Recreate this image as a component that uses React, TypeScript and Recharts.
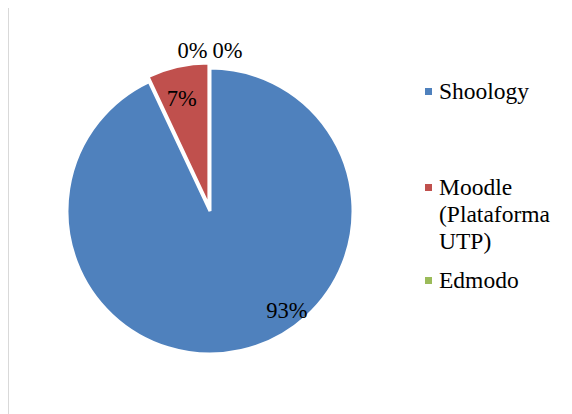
import { PieChart, Pie, Cell, Legend } from 'recharts'

// share of students per platform (%)
const categories = ['Shoology', 'Moodle (Plataforma UTP)', 'Edmodo', 'Otros']
const shares = [93, 7, 0, 0]
const colors = ['#4F81BD', '#C0504D', '#9BBB59', '#8064A2']
const legendCount = 3 // the 4th category has no legend entry in the original

const data = categories.map((name, i) => ({ name, value: shares[i] }))

const FONT = '"Liberation Serif", "Times New Roman", serif'
const RAD = Math.PI / 180
const CX = 201
const CY = 203
const R = 143
const EXPLODE_INDEX = 1
const EXPLODE = 5

// Excel-like label placement per slice (radius factor, angle shift, x nudge)
const labelPlacement = [
  { k: 0.88, shift: 25, dx: 0 },
  { k: 0.81, shift: 1.5, dx: 0 },
  { k: 1.122, shift: 0, dx: -17.5 },
  { k: 1.122, shift: 0, dx: 17.5 },
]

const total = shares.reduce((a, b) => a + b, 0)
const before = shares.slice(0, EXPLODE_INDEX).reduce((a, b) => a + b, 0)
const explodeMid = 90 - ((before + shares[EXPLODE_INDEX] / 2) / total) * 360
const ex = Math.cos(explodeMid * RAD) * EXPLODE
const ey = -Math.sin(explodeMid * RAD) * EXPLODE

const renderLabel = (p: any) => {
  const pl = labelPlacement[p.index]
  const a = (p.midAngle + pl.shift) * RAD
  const r = p.outerRadius * pl.k
  const x = p.cx + r * Math.cos(a) + pl.dx
  const y = p.cy - r * Math.sin(a)
  return (
    <text
      key={`lbl-${p.index}`}
      x={x}
      y={y}
      textAnchor="middle"
      dominantBaseline="central"
      fill="#000"
      fontFamily={FONT}
      fontSize={22.5}
    >
      {`${Math.round(p.value)}%`}
    </text>
  )
}

const LegendBox = () => (
  <div style={{ fontFamily: FONT, fontSize: 23.5, lineHeight: '27px', color: '#000' }}>
    {categories.slice(0, legendCount).map((c, i) => (
      <div
        key={c}
        style={{
          display: 'flex',
          alignItems: 'flex-start',
          marginTop: i === 0 ? 0 : i === 1 ? 69 : 12,
        }}
      >
        <span
          style={{
            width: 7,
            height: 7,
            background: colors[i],
            marginTop: 10,
            marginRight: 7,
            flexShrink: 0,
          }}
        />
        <span style={{ width: 128 }}>{c}</span>
      </div>
    ))}
  </div>
)

export default function App() {
  return (
    <div
      style={{
        width: 580,
        height: 420,
        marginTop: -1,
        border: '1px solid #d9d9d9',
        background: '#fff',
        overflow: 'hidden',
      }}
    >
      <PieChart width={570} height={410} margin={{ top: 0, right: 0, bottom: 0, left: 0 }}>
        <Pie
          data={data}
          dataKey="value"
          nameKey="name"
          cx={CX}
          cy={CY}
          outerRadius={R}
          startAngle={90}
          endAngle={-270}
          stroke="#fff"
          strokeWidth={3}
          label={renderLabel}
          labelLine={false}
          isAnimationActive={false}
        >
          {data.map((d, i) => (
            <Cell
              key={d.name}
              fill={i === EXPLODE_INDEX ? 'none' : colors[i]}
              stroke={i === EXPLODE_INDEX ? 'none' : '#fff'}
            />
          ))}
        </Pie>
        <Pie
          data={data}
          dataKey="value"
          nameKey="name"
          cx={CX + ex}
          cy={CY + ey}
          outerRadius={R}
          startAngle={90}
          endAngle={-270}
          strokeWidth={3}
          legendType="none"
          isAnimationActive={false}
        >
          {data.map((d, i) => (
            <Cell
              key={d.name}
              fill={i === EXPLODE_INDEX ? colors[i] : 'none'}
              stroke={i === EXPLODE_INDEX ? '#fff' : 'none'}
            />
          ))}
        </Pie>
        <Legend
          layout="vertical"
          align="right"
          verticalAlign="top"
          content={() => <LegendBox />}
          wrapperStyle={{ top: 70, left: 416, width: 150 }}
        />
      </PieChart>
    </div>
  )
}
